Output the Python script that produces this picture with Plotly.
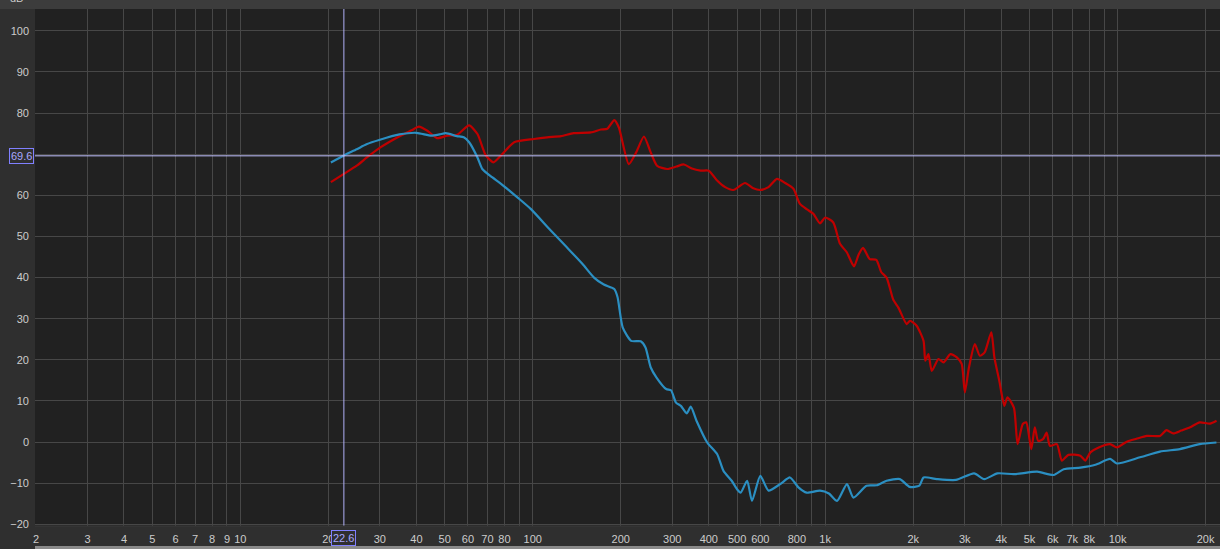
import numpy as np
import plotly.graph_objects as go

# ---------------- data ----------------
freq_red = [20.4, 22.6, 25, 27.1, 30.2, 35.3, 38.5, 40.8, 43.6, 47.1, 51, 55.1, 60.6, 64.7, 69.1, 73.4, 77.9,
            86.4, 101, 112, 125, 138, 158, 171, 180, 190, 197, 213, 226, 240, 253, 266, 288, 310, 329, 350,
            375, 400, 427, 455, 485, 532, 565, 600, 640, 684, 730, 779, 820, 870, 911, 960, 1000, 1066, 1124,
            1187, 1255, 1300, 1348, 1420, 1496, 1556, 1622, 1710, 1780, 1900, 1950, 2055, 2170, 2200, 2255,
            2315, 2440, 2540, 2680, 2820, 2930, 3004, 3100, 3250, 3380, 3510, 3700, 3790, 3940, 4100, 4200,
            4420, 4550, 4740, 4870, 5070, 5210, 5350, 5560, 5720, 5870, 6200, 6450, 6790, 7460, 7760, 8070,
            8620, 9430, 9940, 10750, 11600, 12600, 13960, 14700, 15500, 16500, 17700, 19100, 20700, 21800]
db_red = [63.2, 65.2, 67.2, 69.2, 71.7, 74.5, 75.8, 76.7, 75.7, 73.9, 74.5, 74.7, 77.0, 74.9, 69.7, 68.0, 69.7,
          72.9, 73.7, 74.1, 74.4, 75.1, 75.3, 76.0, 76.2, 78.3, 76.5, 67.6, 70.5, 74.3, 70.5, 67.2, 66.4, 67.0,
          67.5, 66.5, 66.0, 66.0, 63.6, 62.0, 61.3, 63.0, 61.8, 61.3, 62.0, 64.0, 63.0, 61.6, 57.9, 56.5, 55.5,
          53.2, 54.6, 53.4, 48.2, 46.1, 42.7, 45.5, 47.2, 44.5, 44.3, 41.3, 40.0, 34.6, 32.7, 28.7, 29.5, 28.3,
          24.6, 19.8, 21.4, 17.3, 20.2, 19.4, 21.4, 20.6, 19.0, 12.1, 18.0, 23.8, 21.0, 21.8, 26.7, 20.6, 14.9,
          8.8, 10.9, 8.4, -0.5, 4.4, 4.8, -1.7, 3.6, 0.3, 0.7, 2.3, -0.9, -0.5, -4.5, -3.1, -3.3, -4.5, -2.5,
          -1.3, -0.5, -1.3, 0.1, 0.8, 1.5, 1.5, 2.9, 2.1, 2.8, 3.6, 4.8, 4.5, 5.2]

freq_blue = [20.4, 22.6, 25, 27, 30, 35, 40, 45, 48, 50.4, 55, 58.1, 60.6, 64.7, 67.2, 72.6, 77.9, 88.6, 98.4,
             115, 131, 148, 162, 175, 190, 195, 203, 217, 234, 243, 253, 265, 286, 297, 309, 321, 336, 347,
             363, 395, 427, 449, 479, 500, 514, 541, 562, 600, 640, 702, 758, 810, 864, 960, 1030, 1098, 1187,
             1249, 1385, 1500, 1622, 1800, 1946, 2100, 2170, 2408, 2800, 3230, 3500, 3880, 4420, 5310, 6050,
             6540, 7460, 8400, 9430, 9940, 11930, 13960, 16330, 19100, 21780]
db_blue = [68.0, 69.7, 71.2, 72.4, 73.5, 74.8, 75.2, 74.5, 74.8, 75.1, 74.4, 74.1, 72.9, 69.2, 66.4, 64.4, 62.8,
           59.5, 56.7, 51.5, 47.3, 43.3, 40.0, 38.3, 37.2, 35.2, 27.9, 24.6, 24.5, 23.0, 18.2, 15.7, 12.9, 12.6,
           9.6, 8.8, 7.0, 8.6, 5.2, -0.1, -2.9, -7.0, -9.4, -11.5, -12.3, -9.4, -14.3, -8.2, -11.8, -10.2, -8.6,
           -11.0, -12.3, -11.8, -12.5, -14.3, -10.2, -13.5, -10.6, -10.5, -9.4, -9.0, -10.9, -10.6, -8.6, -9.0,
           -9.2, -7.6, -9.0, -7.6, -7.8, -7.2, -8.0, -6.6, -6.2, -5.5, -4.1, -5.2, -3.7, -2.3, -1.7, -0.5, -0.1]

x_grid = [2, 3, 4, 5, 6, 7, 8, 9, 10, 20, 30, 40, 50, 60, 70, 80, 90, 100, 200, 300, 400, 500, 600, 700, 800,
          900, 1000, 2000, 3000, 4000, 5000, 6000, 7000, 8000, 9000, 10000, 20000]
x_labels = ["2", "3", "4", "5", "6", "7", "8", "9", "10", "20", "30", "40", "50", "60", "70", "80", "",
            "100", "200", "300", "400", "500", "600", "", "800", "", "1k", "2k", "3k", "4k", "5k", "6k", "7k",
            "8k", "", "10k", "20k"]
y_ticks = [-20, -10, 0, 10, 20, 30, 40, 50, 60, 70, 80, 90, 100]

cursor_freq = 22.6
cursor_db = 69.6

# ---------------- figure ----------------
fig = go.Figure()
fig.add_trace(go.Scatter(x=freq_red, y=db_red, mode="lines",
                         line=dict(color="#c00000", width=2.2, shape="spline", smoothing=0.6),
                         hoverinfo="skip", showlegend=False))
fig.add_trace(go.Scatter(x=freq_blue, y=db_blue, mode="lines",
                         line=dict(color="#2b8fc2", width=2.2, shape="spline", smoothing=0.6),
                         hoverinfo="skip", showlegend=False))
# cursor crosshair
fig.add_trace(go.Scatter(x=[cursor_freq, cursor_freq], y=[-30, 120], mode="lines",
                         line=dict(color="#b0b0f8", width=1), hoverinfo="skip", showlegend=False))
fig.add_trace(go.Scatter(x=[1.5, 30000], y=[cursor_db, cursor_db], mode="lines",
                         line=dict(color="#c0c0ff", width=1), hoverinfo="skip", showlegend=False))

font_lbl = dict(family="Liberation Sans, Arial, sans-serif", size=11, color="#cccccc")
font_cur = dict(family="Liberation Sans, Arial, sans-serif", size=11, color="#a8a8ff")

fig.update_layout(
    width=1220, height=549,
    margin=dict(l=35, r=0, t=9, b=23, pad=0),
    paper_bgcolor="#2f2f2f",
    plot_bgcolor="#212121",
    showlegend=False,
    xaxis=dict(type="log", range=[np.log10(1.985), np.log10(22400)],
               tickvals=x_grid, ticktext=x_labels, showgrid=True,
               gridcolor="#474747", gridwidth=1, zeroline=False, showline=False,
               ticks="", tickfont=font_lbl, ticklabelstandoff=5, fixedrange=True, automargin=False),
    yaxis=dict(range=[-20.4, 105.3], tickvals=y_ticks, showgrid=True,
               gridcolor="#474747", gridwidth=1, zeroline=False, showline=False,
               ticks="", tickfont=font_lbl, ticklabelstandoff=5, fixedrange=True, automargin=False),
    shapes=[
        dict(type="rect", xref="paper", yref="paper", x0=-0.05, x1=1.05, y0=1.0, y1=1.05,
             fillcolor="#3c3c3c", line=dict(width=0), layer="below"),
        dict(type="line", xref="paper", yref="paper", x0=0, x1=1, y0=0.0, y1=0.0,
             line=dict(color="#3a3a3a", width=1)),
        dict(type="rect", xref="paper", yref="paper", x0=0, x1=1.05, y0=-0.0387, y1=-0.05,
             fillcolor="#8a8a8a", line=dict(width=0)),
    ],
    annotations=[
        dict(text="dB", xref="paper", yref="paper", x=0, y=1, xanchor="right", yanchor="middle",
             xshift=-10, yshift=11, showarrow=False, font=font_lbl),
        dict(text=f"{cursor_db:.1f}", xref="paper", yref="y", x=0, y=cursor_db, xanchor="right",
             yanchor="middle", xshift=-1, showarrow=False, bgcolor="#2f2f2f",
             bordercolor="#8080ff", borderwidth=1, borderpad=1, font=font_cur),
        dict(text=f"{cursor_freq:.1f}", xref="x", yref="paper", x=np.log10(cursor_freq), y=0,
             xanchor="center", yanchor="top", yshift=-4, showarrow=False, bgcolor="#2f2f2f",
             bordercolor="#8080ff", borderwidth=1, borderpad=1, font=font_cur),
    ],
)

fig.write_html("out.html", config={"displayModeBar": False},
               post_script="document.body.style.margin='0';document.body.style.overflow='hidden';")
